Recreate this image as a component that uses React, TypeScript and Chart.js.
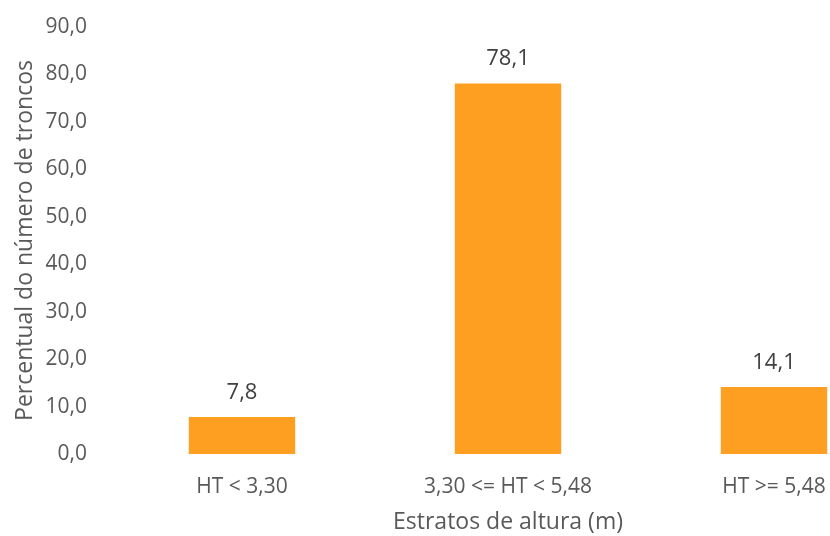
import React, { useEffect, useRef } from "react";
import { Chart, registerables } from "chart.js";

Chart.register(...registerables);

const categories = ["HT < 3,30", "3,30 <= HT < 5,48", "HT >= 5,48"];
const values = [7.8, 78.1, 14.1];
const yMin = 0;
const yMax = 90;
const yStep = 10;
const xTitle = "Estratos de altura (m)";
const yTitle = "Percentual do número de troncos";

const FONT = "'Open Sans', 'Noto Sans', sans-serif";
const fmt = (v: number) => v.toFixed(1).replace(".", ",");

const dataLabels = {
  id: "dataLabels",
  afterDatasetsDraw(chart: any) {
    const ctx = chart.ctx;
    const meta = chart.getDatasetMeta(0);
    ctx.save();
    ctx.font = `22px ${FONT}`;
    ctx.fillStyle = "#404040";
    ctx.textAlign = "center";
    ctx.textBaseline = "alphabetic";
    meta.data.forEach((bar: any, i: number) => {
      ctx.fillText(fmt(values[i]), bar.x, bar.y - 18);
    });
    ctx.restore();
  },
};

export default function App() {
  const ref = useRef<HTMLCanvasElement>(null);
  useEffect(() => {
    document.body.style.margin = "0";
    document.body.style.overflow = "hidden";
    const chart = new Chart(ref.current!, {
      type: "bar",
      data: {
        labels: categories,
        datasets: [
          {
            data: values,
            backgroundColor: "#FF9F21",
            borderWidth: 0,
            categoryPercentage: 1,
            barPercentage: 0.4,
          },
        ],
      },
      options: {
        animation: false,
        responsive: false,
        maintainAspectRatio: false,
        layout: { padding: { top: 27, right: 13, bottom: 0, left: 0 } },
        plugins: { legend: { display: false }, tooltip: { enabled: false } },
        scales: {
          x: {
            grid: { display: false, drawTicks: false },
            border: { display: false },
            ticks: { color: "#595959", font: { family: FONT, size: 21 }, padding: 20 },
            title: {
              display: true,
              text: xTitle,
              color: "#595959",
              font: { family: FONT, size: 23 },
              padding: { top: 6, bottom: 0 },
            },
            afterFit: (s: any) => {
              s.height = 82;
              s.paddingLeft = 0;
              s.paddingRight = 0;
            },
          },
          y: {
            min: yMin,
            max: yMax,
            grid: { display: false, drawTicks: false },
            border: { display: false },
            ticks: {
              stepSize: yStep,
              color: "#595959",
              font: { family: FONT, size: 21 },
              padding: 22,
              callback: (v: any) => fmt(Number(v)),
            },
            title: {
              display: true,
              text: yTitle,
              color: "#595959",
              font: { family: FONT, size: 23 },
              padding: { top: 12, bottom: 0 },
            },
            afterFit: (s: any) => {
              s.width = 109;
              s.paddingTop = 0;
              s.paddingBottom = 0;
            },
          },
        },
      },
      plugins: [dataLabels],
    });
    return () => chart.destroy();
  }, []);
  return (
    <div style={{ position: "fixed", left: 0, top: 0, width: 830, height: 536, overflow: "hidden", background: "#fff" }}>
      <canvas ref={ref} width={920} height={536} style={{ display: "block" }} />
    </div>
  );
}
